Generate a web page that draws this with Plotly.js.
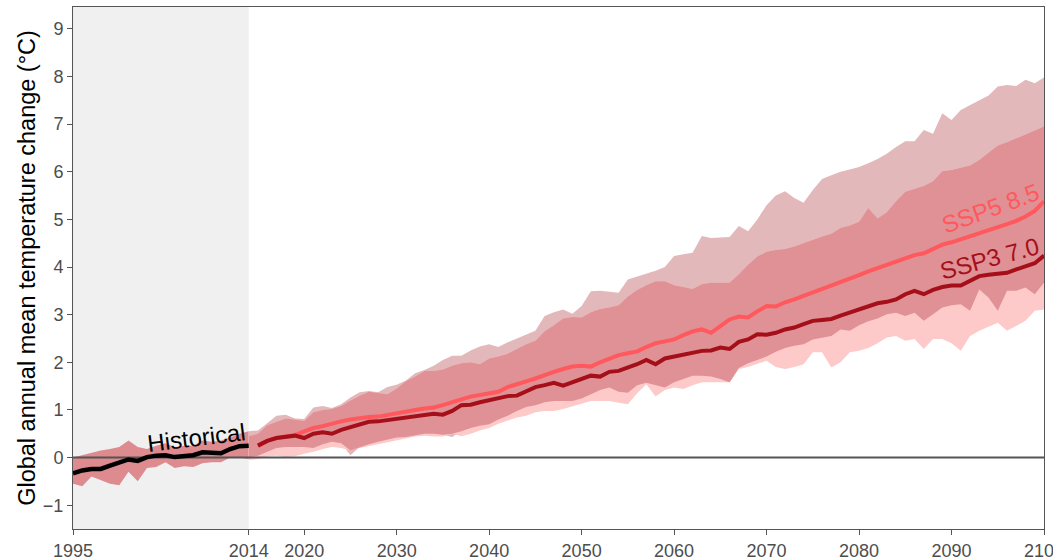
<!DOCTYPE html>
<html>
<head>
<meta charset="utf-8">
<script src="https://cdn.plot.ly/plotly-3.0.1.min.js"></script>
<style>
  html, body { margin: 0; padding: 0; background: #fff; }
  #chart { width: 1053px; height: 560px; }
</style>
</head>
<body>
<div id="chart"></div>
<script>
// ---------------- DATA ----------------
const histYears = [1995,1996,1997,1998,1999,2000,2001,2002,2003,2004,2005,2006,2007,2008,2009,2010,2011,2012,2013,2014];
const histMean  = [-0.33,-0.27,-0.24,-0.24,-0.17,-0.10,-0.04,-0.07,0.01,0.04,0.05,0.01,0.04,0.05,0.11,0.11,0.09,0.18,0.24,0.25];
const histUpper = [0.00,0.05,0.10,0.15,0.18,0.22,0.36,0.22,0.18,0.25,0.30,0.22,0.25,0.25,0.36,0.33,0.36,0.42,0.50,0.55];
const histLower = [-0.55,-0.60,-0.40,-0.47,-0.55,-0.58,-0.30,-0.50,-0.22,-0.20,-0.10,-0.22,-0.18,-0.20,-0.12,-0.10,-0.10,0.00,0.00,-0.03];

// band years 2014..2100, mean years 2015..2100
const bandYears = [];
for (let y = 2014; y <= 2100; y++) bandYears.push(y);
const meanYears = bandYears.slice(1);

const ssp585Upper = [
  0.55,                                                   // 2014
  0.57,0.72,0.88,0.90,0.82,0.81,1.05,1.08,1.04,1.12,      // 2015-2024
  1.26,1.37,1.40,1.37,1.48,1.53,1.62,1.77,1.84,1.93,      // 2025-2034
  2.05,2.14,2.14,2.25,2.33,2.38,2.32,2.42,2.50,2.58,      // 2035-2044
  2.66,2.97,3.05,3.11,3.02,3.18,3.49,3.50,3.48,3.46,      // 2045-2054
  3.74,3.80,3.85,3.92,4.00,4.23,4.27,4.30,4.65,4.61,      // 2055-2064
  4.62,4.63,4.86,4.75,5.00,5.30,5.50,5.59,5.45,5.35,      // 2065-2074
  5.62,5.85,5.93,6.00,6.05,6.10,6.18,6.27,6.38,6.52,      // 2075-2084
  6.64,6.64,6.88,6.80,7.23,7.09,7.30,7.40,7.50,7.60,      // 2085-2094
  7.79,7.82,7.80,7.93,7.86,7.98                           // 2095-2100
];
const ssp585Lower = [
  0.00,
  0.04,0.12,0.20,0.22,0.22,0.22,0.20,0.28,0.33,0.30,
  0.05,0.22,0.28,0.33,0.38,0.42,0.43,0.46,0.50,0.50,
  0.48,0.43,0.55,0.62,0.67,0.70,0.80,0.88,0.98,1.06,
  1.10,1.16,1.19,1.19,1.19,1.24,1.33,1.42,1.47,1.38,
  1.36,1.52,1.57,1.52,1.47,1.58,1.65,1.72,1.72,1.70,
  1.65,1.58,1.88,1.98,2.05,2.12,2.22,2.30,2.35,2.38,
  2.48,2.52,2.55,2.69,2.66,2.78,2.86,2.92,3.01,3.04,
  2.97,3.04,2.87,3.01,3.15,3.20,3.22,3.08,3.53,3.36,
  3.08,3.50,3.50,3.57,3.43,3.67
];
const ssp370Upper = [
  0.45,
  0.50,0.68,0.75,0.82,0.80,0.77,0.95,1.00,1.02,1.08,
  1.20,1.30,1.38,1.35,1.33,1.45,1.60,1.70,1.82,1.82,
  1.85,1.93,1.98,2.00,1.96,2.08,2.12,2.18,2.28,2.38,
  2.45,2.65,2.78,2.92,2.95,2.94,3.05,3.12,3.15,3.20,
  3.38,3.52,3.62,3.70,3.70,3.62,3.58,3.54,3.64,3.67,
  3.67,3.67,3.85,4.05,4.22,4.32,4.36,4.38,4.43,4.50,
  4.58,4.64,4.70,4.82,4.87,4.95,5.24,5.02,5.15,5.38,
  5.58,5.64,5.70,5.80,6.01,6.04,6.08,6.13,6.25,6.40,
  6.55,6.62,6.70,6.78,6.86,6.95
];
const ssp370Lower = [
  -0.05,
  -0.03,0.02,0.04,0.01,0.03,0.08,0.12,0.18,0.22,0.20,
  0.15,0.20,0.24,0.28,0.32,0.35,0.40,0.44,0.46,0.44,
  0.44,0.50,0.45,0.50,0.57,0.62,0.71,0.78,0.84,0.88,
  0.95,0.98,0.98,1.02,1.08,1.14,1.19,1.19,1.19,1.15,
  1.12,1.35,1.54,1.28,1.42,1.47,1.44,1.52,1.58,1.58,
  1.58,1.58,1.86,1.90,1.97,2.03,1.90,1.86,1.90,1.96,
  2.21,2.21,1.89,2.00,2.21,2.24,2.30,2.40,2.52,2.55,
  2.45,2.49,2.28,2.49,2.49,2.40,2.24,2.55,2.66,2.75,
  2.83,2.66,2.76,2.87,3.08,3.11
];
const ssp585Mean = [
  0.25,0.35,0.41,0.44,0.47,0.55,0.62,0.66,0.72,0.76,      // 2015-2024
  0.80,0.83,0.85,0.86,0.90,0.93,0.96,1.00,1.03,1.05,      // 2025-2034
  1.10,1.17,1.22,1.28,1.31,1.35,1.38,1.48,1.55,1.60,      // 2035-2044
  1.66,1.74,1.80,1.86,1.91,1.93,1.91,2.00,2.07,2.15,      // 2045-2054
  2.19,2.23,2.32,2.40,2.44,2.48,2.57,2.65,2.69,2.62,      // 2055-2064
  2.76,2.90,2.96,2.94,3.07,3.18,3.17,3.26,3.32,3.39,      // 2065-2074
  3.46,3.53,3.60,3.67,3.76,3.83,3.91,3.98,4.06,4.13,      // 2075-2084
  4.20,4.25,4.29,4.38,4.47,4.52,4.58,4.64,4.71,4.78,      // 2085-2094
  4.84,4.90,4.97,5.06,5.18,5.38                           // 2095-2100
];
const ssp370Mean = [
  0.25,0.35,0.41,0.44,0.46,0.41,0.50,0.53,0.50,0.58,
  0.64,0.70,0.75,0.76,0.79,0.80,0.83,0.86,0.89,0.92,
  0.90,0.98,1.10,1.11,1.16,1.20,1.26,1.29,1.30,1.38,
  1.48,1.52,1.57,1.51,1.58,1.66,1.72,1.70,1.80,1.82,
  1.88,1.96,2.05,1.96,2.08,2.12,2.15,2.18,2.24,2.25,
  2.31,2.28,2.43,2.48,2.59,2.58,2.62,2.69,2.73,2.80,
  2.87,2.89,2.91,2.98,3.04,3.10,3.17,3.24,3.27,3.32,
  3.43,3.50,3.43,3.52,3.58,3.61,3.61,3.70,3.81,3.84,
  3.86,3.88,3.95,4.02,4.08,4.24
];

const xTickVals = [1995, 2014, 2020, 2030, 2040, 2050, 2060, 2070, 2080, 2090, 2100];
const yTickVals = [-1, 0, 1, 2, 3, 4, 5, 6, 7, 8, 9];
const labels = [
  {text: 'Historical', x: 2008.4, y: 0.43, angle: -7, color: '#000000'},
  {text: 'SSP5 8.5',   x: 2094.2, y: 5.22, angle: -20, color: '#ff585d'},
  {text: 'SSP3 7.0',   x: 2094.1, y: 4.17, angle: -15, color: '#a50f1a'}
];

// ---------------- STYLE ----------------
const FONT = 'Liberation Sans, Arial, sans-serif';
const C_HIST_BAND = '#dd8b8e';
const C_585_BAND = '#e3b8ba';
const C_370_BAND = '#fdc9c9';
const C_OVERLAP  = '#e09195';

const overlapLo = ssp585Lower.map((v, i) => Math.max(v, ssp370Lower[i]));
const overlapHi = ssp585Upper.map((v, i) => Math.max(Math.min(v, ssp370Upper[i]), overlapLo[i]));

function band(x, lo, hi, color) {
  return [
    {x: x, y: lo, mode: 'lines', line: {width: 0, color: color}, hoverinfo: 'skip', showlegend: false},
    {x: x, y: hi, mode: 'lines', line: {width: 0, color: color}, fill: 'tonexty', fillcolor: color, hoverinfo: 'skip', showlegend: false}
  ];
}

const traces = [].concat(
  band(histYears, histLower, histUpper, C_HIST_BAND),
  band(bandYears, ssp585Lower, ssp585Upper, C_585_BAND),
  band(bandYears, ssp370Lower, ssp370Upper, C_370_BAND),
  band(bandYears, overlapLo, overlapHi, C_OVERLAP),
  [
    {x: [xTickVals[0], xTickVals[xTickVals.length - 1]], y: [0, 0], mode: 'lines',
     line: {color: '#555555', width: 2}, hoverinfo: 'skip', showlegend: false},
    {x: meanYears, y: ssp585Mean, mode: 'lines', line: {color: '#ff585d', width: 4}, showlegend: false},
    {x: meanYears, y: ssp370Mean, mode: 'lines', line: {color: '#a50f1a', width: 4}, showlegend: false},
    {x: histYears, y: histMean, mode: 'lines', line: {color: '#000000', width: 4.5}, showlegend: false}
  ]
);

const layout = {
  width: 1053, height: 560,
  margin: {l: 73, r: 9, t: 7, b: 31},
  paper_bgcolor: '#ffffff', plot_bgcolor: '#ffffff',
  font: {family: FONT, size: 18, color: '#4d4d4d'},
  showlegend: false,
  xaxis: {
    range: [1995, 2100], tickvals: xTickVals, ticktext: xTickVals.map(String),
    ticklabeloverflow: 'allow',
    showgrid: false, zeroline: false, showline: true, mirror: true,
    linecolor: '#555555', linewidth: 1, ticks: 'outside', ticklen: 5, tickcolor: '#555555',
    tickfont: {family: FONT, size: 18, color: '#4d4d4d'}
  },
  yaxis: {
    range: [-1.5, 9.46], tickvals: yTickVals,
    showgrid: false, zeroline: false, showline: true, mirror: true,
    linecolor: '#555555', linewidth: 1, ticks: 'outside', ticklen: 5, tickcolor: '#555555',
    tickfont: {family: FONT, size: 18, color: '#4d4d4d'},
    title: {text: 'Global annual mean temperature change (°C)', standoff: 0,
            font: {family: FONT, size: 23.5, color: '#000000'}}
  },
  shapes: [
    {type: 'rect', xref: 'x', yref: 'paper', x0: histYears[0], x1: histYears[histYears.length - 1],
     y0: 0, y1: 1, fillcolor: '#f0f0f0', line: {width: 0}, layer: 'below'}
  ],
  annotations: labels.map(l => ({
    x: l.x, y: l.y, xref: 'x', yref: 'y', text: l.text, showarrow: false,
    textangle: l.angle, xanchor: 'center', yanchor: 'middle',
    font: {family: FONT, size: 24, color: l.color}
  }))
};

Plotly.newPlot('chart', traces, layout, {displayModeBar: false, staticPlot: true});
</script>
</body>
</html>
